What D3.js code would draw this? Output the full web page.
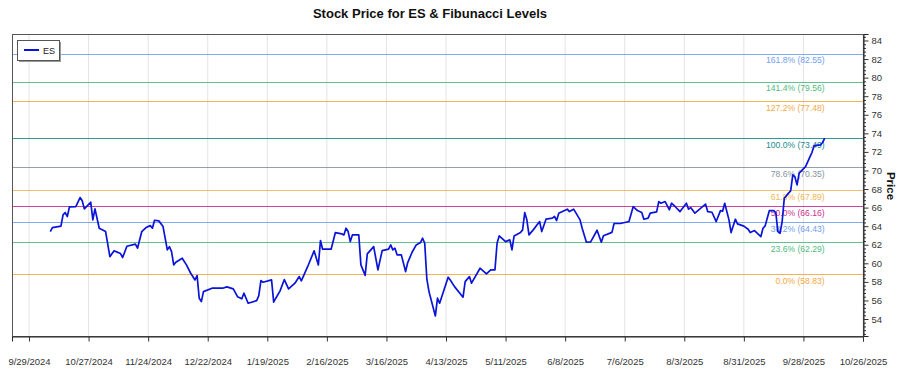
<!DOCTYPE html>
<html>
<head>
<meta charset="utf-8">
<script src="https://cdn.jsdelivr.net/npm/d3@7"></script>
<style>
  html, body { margin: 0; padding: 0; background: #fff; }
  svg { display: block; font-family: "Liberation Sans", Arial, sans-serif; }
</style>
</head>
<body>
<svg id="chart" width="900" height="375"></svg>
<script>
// ---- data ----
const dates = ["2024-10-09","2024-10-10","2024-10-14","2024-10-15","2024-10-16","2024-10-17","2024-10-18","2024-10-21","2024-10-23","2024-10-24","2024-10-25","2024-10-28","2024-10-29","2024-10-30","2024-11-01","2024-11-04","2024-11-06","2024-11-08","2024-11-11","2024-11-12","2024-11-14","2024-11-18","2024-11-19","2024-11-21","2024-11-23","2024-11-25","2024-11-26","2024-11-27","2024-11-29","2024-12-01","2024-12-03","2024-12-04","2024-12-05","2024-12-06","2024-12-07","2024-12-10","2024-12-12","2024-12-14","2024-12-16","2024-12-17","2024-12-18","2024-12-19","2024-12-20","2024-12-24","2024-12-29","2024-12-31","2025-01-03","2025-01-05","2025-01-07","2025-01-08","2025-01-10","2025-01-14","2025-01-15","2025-01-16","2025-01-17","2025-01-21","2025-01-22","2025-01-23","2025-01-25","2025-01-27","2025-01-29","2025-02-01","2025-02-03","2025-02-04","2025-02-07","2025-02-10","2025-02-12","2025-02-13","2025-02-14","2025-02-18","2025-02-20","2025-02-23","2025-02-24","2025-02-25","2025-02-26","2025-02-27","2025-02-28","2025-03-03","2025-03-04","2025-03-06","2025-03-07","2025-03-10","2025-03-12","2025-03-14","2025-03-17","2025-03-18","2025-03-19","2025-03-20","2025-03-21","2025-03-23","2025-03-25","2025-03-26","2025-03-28","2025-03-30","2025-04-01","2025-04-02","2025-04-03","2025-04-04","2025-04-05","2025-04-08","2025-04-09","2025-04-10","2025-04-14","2025-04-15","2025-04-17","2025-04-21","2025-04-22","2025-04-24","2025-04-25","2025-04-29","2025-05-02","2025-05-04","2025-05-06","2025-05-07","2025-05-08","2025-05-11","2025-05-13","2025-05-14","2025-05-15","2025-05-18","2025-05-19","2025-05-20","2025-05-21","2025-05-22","2025-05-24","2025-05-27","2025-05-28","2025-05-30","2025-06-02","2025-06-03","2025-06-04","2025-06-05","2025-06-09","2025-06-10","2025-06-12","2025-06-15","2025-06-16","2025-06-18","2025-06-20","2025-06-23","2025-06-25","2025-06-26","2025-06-30","2025-07-01","2025-07-04","2025-07-08","2025-07-10","2025-07-12","2025-07-14","2025-07-15","2025-07-17","2025-07-18","2025-07-21","2025-07-22","2025-07-23","2025-07-25","2025-07-27","2025-07-28","2025-07-30","2025-08-01","2025-08-04","2025-08-05","2025-08-06","2025-08-08","2025-08-13","2025-08-14","2025-08-16","2025-08-18","2025-08-20","2025-08-21","2025-08-22","2025-08-24","2025-08-25","2025-08-27","2025-08-28","2025-08-31","2025-09-02","2025-09-03","2025-09-05","2025-09-08","2025-09-09","2025-09-10","2025-09-12","2025-09-14","2025-09-15","2025-09-16","2025-09-17","2025-09-18","2025-09-19","2025-09-21","2025-09-22","2025-09-23","2025-09-24","2025-09-25","2025-09-26","2025-09-29","2025-10-01","2025-10-02","2025-10-03","2025-10-04","2025-10-06","2025-10-07","2025-10-08"];
const prices = [63.42,63.85,64.00,65.22,65.47,65.04,66.08,66.11,67.08,66.73,65.86,66.58,64.68,65.86,63.78,63.42,60.72,61.34,61.05,60.62,61.84,62.06,61.63,63.42,63.85,64.06,63.78,64.64,64.57,63.96,61.45,61.80,61.26,59.83,60.12,60.55,59.83,58.93,58.21,58.68,56.24,55.88,56.95,57.32,57.32,57.46,57.24,56.41,56.17,56.78,55.70,55.98,56.52,58.14,57.96,58.21,55.81,56.24,57.03,58.25,57.24,57.86,58.57,58.11,59.66,61.34,59.83,62.45,61.52,61.52,63.31,63.17,63.06,63.78,63.42,62.34,63.06,63.06,59.83,58.70,61.01,61.80,59.29,61.37,61.52,61.98,61.45,61.63,60.91,60.91,59.11,60.08,61.16,61.98,62.23,62.70,62.16,58.29,56.95,54.33,56.24,55.70,58.50,58.21,57.49,56.35,58.03,58.57,57.86,59.47,58.86,59.29,59.29,62.16,62.95,62.34,62.52,61.45,62.95,63.31,63.60,65.47,64.68,63.06,63.60,64.50,63.42,64.75,64.86,65.04,64.61,65.40,65.83,65.57,65.83,64.68,63.78,62.27,62.30,63.56,62.27,62.97,63.33,64.29,64.29,64.50,66.11,65.68,65.47,64.75,64.86,65.40,65.54,66.65,66.47,66.65,65.76,66.47,66.04,65.57,66.47,65.83,66.00,65.40,66.37,65.57,65.50,64.50,65.68,65.60,66.47,64.68,63.31,64.75,64.25,64.00,63.67,63.31,63.53,62.88,63.78,64.03,65.68,65.68,65.47,63.42,63.24,64.50,67.01,67.56,67.80,69.53,69.30,68.45,69.71,70.42,71.43,71.93,72.65,72.70,72.76,73.01,73.49];

const fibRatios = ["0.0%","23.6%","38.2%","50.0%","61.8%","78.6%","100.0%","127.2%","141.4%","161.8%"];
const fibValues = [58.83,62.29,64.43,66.16,67.89,70.35,73.49,77.48,79.56,82.55];
const fibColors = ["#F5A030","#3CB371","#6495ED","#C71585","#F0B040","#778899","#008080","#F5A030","#3CB371","#6495ED"];

const xTickLabels = ["9/29/2024","10/27/2024","11/24/2024","12/22/2024","1/19/2025","2/16/2025","3/16/2025","4/13/2025","5/11/2025","6/8/2025","7/6/2025","8/3/2025","8/31/2025","9/28/2025","10/26/2025"];
const yTickValues = [54,56,58,60,62,64,66,68,70,72,74,76,78,80,82,84];
const xDomain = ["2024-09-21","2025-10-26"];
const yDomain = [52.17, 84.70];

const seriesName = "ES";
const titleText = "Stock Price for ES & Fibunacci Levels";
const yTitle = "Price";

// ---- layout ----
const L = 12, R = 863, T = 34, B = 336;
const parse = d3.utcParse("%Y-%m-%d");
const parseTick = d3.utcParse("%-m/%-d/%Y");

const x = d3.scaleUtc().domain(xDomain.map(parse)).range([L, R]);
const y = d3.scaleLinear().domain(yDomain).range([B, T]);

const svg = d3.select("#chart");

// vertical grid
const tickDates = xTickLabels.map(parseTick);
svg.append("g").selectAll("line").data(tickDates).join("line")
  .attr("x1", d => x(d)).attr("x2", d => x(d))
  .attr("y1", T).attr("y2", B)
  .attr("stroke", "#e3e3e3").attr("stroke-width", 1);

// fib lines
const fib = fibValues.map((v, i) => ({v, r: fibRatios[i], c: fibColors[i]}));
svg.append("g").selectAll("line").data(fib).join("line")
  .attr("x1", L).attr("x2", R)
  .attr("y1", d => Math.round(y(d.v)) + 0.5).attr("y2", d => Math.round(y(d.v)) + 0.5)
  .attr("stroke", d => d.c).attr("stroke-width", 1).attr("opacity", 0.8);

// fib labels
const lastDate = parse(dates[dates.length - 1]);
svg.append("g").selectAll("text").data(fib).join("text")
  .attr("x", x(lastDate)).attr("y", d => y(d.v) + 9.5)
  .attr("text-anchor", "end")
  .attr("font-size", "8.6px")
  .attr("fill", d => d.c).attr("opacity", 0.9)
  .text(d => `${d.r} (${d.v.toFixed(2)})`);

// price line
const data = dates.map((d, i) => ({d: parse(d), v: prices[i]}));
svg.append("path").datum(data)
  .attr("fill", "none").attr("stroke", "#0a14d8").attr("stroke-width", 1.7)
  .attr("stroke-linejoin", "round")
  .attr("d", d3.line().x(p => x(p.d)).y(p => y(p.v)));

// frame
svg.append("rect").attr("x", L + 0.5).attr("y", T + 0.5)
  .attr("width", R - L).attr("height", B - T)
  .attr("fill", "none").attr("stroke", "#555").attr("stroke-width", 1);

// x axis
const xAxis = d3.axisBottom(x).tickValues(tickDates)
  .tickFormat(d3.utcFormat("%-m/%-d/%Y")).tickSize(5).tickPadding(17);
const gx = svg.append("g").attr("transform", `translate(0,${B + 0.5})`).call(xAxis);
gx.select(".domain").attr("stroke", "#222");
gx.selectAll(".tick line").attr("stroke", "#333");
gx.selectAll("text").attr("font-size", "9.5px").attr("fill", "#333")
  .attr("font-family", "'Liberation Sans', Arial, sans-serif");

// y axis (right) with minor ticks
const minor = d3.range(52.4, 84.7, 0.4).filter(v => Math.abs(v / 2 - Math.round(v / 2)) > 0.01);
const gyMinor = svg.append("g").attr("transform", `translate(${R + 0.5},0)`)
  .call(d3.axisRight(y).tickValues(minor).tickSize(2.5).tickFormat(""));
gyMinor.select(".domain").remove();
gyMinor.selectAll(".tick line").attr("stroke", "#333");
const gy = svg.append("g").attr("transform", `translate(${R + 0.5},0)`)
  .call(d3.axisRight(y).tickValues(yTickValues).tickSize(5).tickPadding(3).tickFormat(d3.format("d")));
gy.select(".domain").attr("stroke", "#222");
gy.selectAll(".tick line").attr("stroke", "#333");
gy.selectAll("text").attr("font-size", "9.5px").attr("fill", "#333")
  .attr("font-family", "'Liberation Sans', Arial, sans-serif");

// y title
svg.append("text")
  .attr("transform", `translate(887,186) rotate(90)`)
  .attr("text-anchor", "middle")
  .attr("font-size", "11.5px").attr("font-weight", "bold").attr("fill", "#111")
  .text(yTitle);

// title
svg.append("text").attr("x", 430).attr("y", 18)
  .attr("text-anchor", "middle")
  .attr("font-size", "13px").attr("font-weight", "bold").attr("fill", "#111")
  .text(titleText);

// legend
const lg = svg.append("g");
lg.append("rect").attr("x", 19).attr("y", 42).attr("width", 42).attr("height", 20)
  .attr("fill", "#999");
lg.append("rect").attr("x", 17.5).attr("y", 40.5).attr("width", 42).attr("height", 20)
  .attr("fill", "#fff").attr("stroke", "#555");
lg.append("line").attr("x1", 24).attr("x2", 39).attr("y1", 50).attr("y2", 50)
  .attr("stroke", "#0a14d8").attr("stroke-width", 2);
lg.append("text").attr("x", 43).attr("y", 53.5).attr("font-size", "9px").attr("fill", "#222")
  .text(seriesName);
</script>
</body>
</html>
